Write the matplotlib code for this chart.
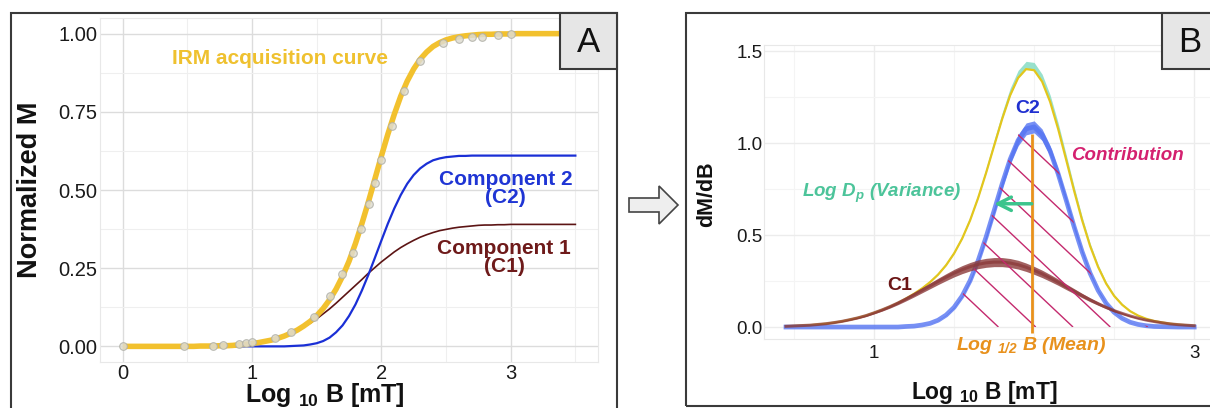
import matplotlib
matplotlib.use("Agg")
import matplotlib.pyplot as plt
import numpy as np
from matplotlib.patches import Rectangle, FancyArrow
from matplotlib.collections import LineCollection

plt.rcParams['font.family'] = ['Liberation Sans', 'DejaVu Sans']
plt.rcParams['mathtext.fontset'] = 'custom'
plt.rcParams['mathtext.rm'] = 'Liberation Sans'
plt.rcParams['mathtext.it'] = 'Liberation Sans:italic'
plt.rcParams['mathtext.bf'] = 'Liberation Sans:bold'
plt.rcParams['mathtext.bfit'] = 'Liberation Sans:italic:bold'

# ---- Panel A: IRM acquisition, normalized M vs log10 B [mT] ----
irm_x = [0, 0.477, 0.699, 0.778, 0.903, 0.954, 1.0, 1.176, 1.301, 1.477, 1.602, 1.699,
         1.778, 1.845, 1.903, 1.954, 2.0, 2.079, 2.176, 2.301, 2.477, 2.602, 2.699,
         2.778, 2.903, 3.0]
irm_y = [0.0, 0.0, 0.002, 0.004, 0.009, 0.011, 0.013, 0.027, 0.045, 0.094, 0.16, 0.23,
         0.30, 0.376, 0.454, 0.522, 0.597, 0.704, 0.817, 0.912, 0.97, 0.982, 0.989,
         0.989, 0.997, 0.998]

fit_x = np.arange(0, 3.501, 0.05)          # 0.00 .. 3.50
fit_total = [0.000, 0.000, 0.000, 0.000, 0.000, 0.000, 0.000, 0.000, 0.000, 0.000,
             0.000, 0.000, 0.001, 0.001, 0.001, 0.002, 0.002, 0.003, 0.005, 0.007,
             0.009, 0.012, 0.016, 0.020, 0.026, 0.033, 0.042, 0.052, 0.065, 0.080,
             0.098, 0.121, 0.149, 0.183, 0.224, 0.272, 0.329, 0.393, 0.462, 0.535,
             0.608, 0.678, 0.742, 0.800, 0.848, 0.887, 0.918, 0.941, 0.959, 0.971,
             0.980, 0.986, 0.990, 0.993, 0.995, 0.997, 0.998, 0.998, 0.999, 0.999,
             0.999, 1.000, 1.000, 1.000, 1.000, 1.000, 1.000, 1.000, 1.000, 1.000,
             1.000]

comp_x = np.arange(0.8, 3.501, 0.05)        # 0.80 .. 3.50
comp1 = [0.002, 0.003, 0.005, 0.007, 0.009, 0.012, 0.016, 0.020, 0.026, 0.033,
         0.041, 0.051, 0.062, 0.074, 0.088, 0.104, 0.120, 0.138, 0.157, 0.176,
         0.195, 0.214, 0.234, 0.252, 0.270, 0.286, 0.302, 0.316, 0.328, 0.339,
         0.349, 0.357, 0.364, 0.370, 0.374, 0.378, 0.381, 0.383, 0.385, 0.387,
         0.388, 0.388, 0.389, 0.389, 0.390, 0.390, 0.390, 0.390, 0.390, 0.390,
         0.390, 0.390, 0.390, 0.390, 0.390]
comp2 = [0.000, 0.000, 0.000, 0.000, 0.000, 0.000, 0.000, 0.000, 0.000, 0.000,
         0.001, 0.002, 0.003, 0.006, 0.010, 0.017, 0.028, 0.045, 0.067, 0.097,
         0.134, 0.179, 0.229, 0.283, 0.338, 0.392, 0.441, 0.484, 0.520, 0.548,
         0.569, 0.584, 0.595, 0.601, 0.605, 0.607, 0.609, 0.609, 0.610, 0.610,
         0.610, 0.610, 0.610, 0.610, 0.610, 0.610, 0.610, 0.610, 0.610, 0.610,
         0.610, 0.610, 0.610, 0.610, 0.610]

# ---- Panel B: gradient dM/dB vs log10 B [mT] ----
bx = np.arange(0.45, 3.001, 0.05)           # 0.45 .. 3.00
grad_total = [0.004, 0.006, 0.008, 0.010, 0.014, 0.018, 0.024, 0.031, 0.040, 0.050,
              0.062, 0.077, 0.093, 0.111, 0.131, 0.155, 0.181, 0.210, 0.244, 0.285,
              0.336, 0.400, 0.480, 0.580, 0.701, 0.838, 0.985, 1.130, 1.259, 1.354,
              1.402, 1.396, 1.334, 1.224, 1.077, 0.910, 0.740, 0.580, 0.440, 0.326,
              0.236, 0.169, 0.121, 0.086, 0.062, 0.045, 0.033, 0.025, 0.018, 0.013,
              0.010, 0.007]
grad_c1 = [0.004, 0.006, 0.008, 0.010, 0.014, 0.018, 0.024, 0.031, 0.040, 0.050,
           0.062, 0.077, 0.093, 0.111, 0.131, 0.153, 0.176, 0.200, 0.224, 0.248,
           0.271, 0.293, 0.312, 0.328, 0.341, 0.349, 0.353, 0.353, 0.348, 0.339,
           0.325, 0.308, 0.289, 0.267, 0.244, 0.219, 0.195, 0.171, 0.148, 0.127,
           0.107, 0.089, 0.074, 0.060, 0.048, 0.038, 0.030, 0.023, 0.017, 0.013,
           0.010, 0.007]
grad_c2 = [0.000, 0.000, 0.000, 0.000, 0.000, 0.000, 0.000, 0.000, 0.000, 0.000,
           0.000, 0.000, 0.000, 0.000, 0.000, 0.003, 0.005, 0.011, 0.020, 0.037,
           0.065, 0.107, 0.168, 0.252, 0.360, 0.489, 0.632, 0.777, 0.911, 1.015,
           1.077, 1.088, 1.045, 0.957, 0.833, 0.691, 0.545, 0.409, 0.292, 0.199,
           0.129, 0.080, 0.047, 0.026, 0.014, 0.007, 0.003, 0.002, 0.001, 0.000,
           0.000, 0.000]
c2_mean = 1.985
c2_disp = 0.235

grad_total = np.array(grad_total)
grad_c1 = np.array(grad_c1)
grad_c2 = np.array(grad_c2)

W, H = 1210, 408
fig = plt.figure(figsize=(W / 100, H / 100), dpi=100)


def fx(px):
    return px / W


def fy(py):
    return 1 - py / H


def style_axes(ax, tick_size, major_c, minor_c):
    ax.grid(True, which='major', color=major_c, lw=1.0, zorder=0)
    ax.grid(True, which='minor', color=minor_c, lw=0.8, zorder=0)
    ax.set_axisbelow(True)
    for s in ax.spines.values():
        s.set_color('#e8e8e8')
        s.set_linewidth(0.8)
    ax.tick_params(which='both', length=0, labelsize=tick_size, labelcolor='#1a1a1a')


# ---------------- Panel A ----------------
ax_a = fig.add_axes([fx(100), fy(362), fx(598) - fx(100), fy(18) - fy(362)])
ax_a.plot(comp_x, comp1, color='#5c1414', lw=1.2, zorder=2)
ax_a.plot(comp_x, comp2, color='#1a2fd6', lw=1.6, zorder=2)
ax_a.plot(fit_x, fit_total, color='#F2C12E', lw=4.0, zorder=3, solid_capstyle='butt')
ax_a.plot(irm_x, irm_y, 'o', ms=5.5, mfc='#dedcd0', mec='#b0b0a8', mew=0.8, alpha=0.85, zorder=4)
ax_a.set_xlim(-0.175, 3.675)
ax_a.set_ylim(-0.05, 1.05)
ax_a.set_xticks([0, 1, 2, 3])
ax_a.set_xticks([0.5, 1.5, 2.5, 3.5], minor=True)
ax_a.set_yticks([0, 0.25, 0.5, 0.75, 1.0])
ax_a.set_yticklabels(['0.00', '0.25', '0.50', '0.75', '1.00'])
ax_a.set_yticks([0.125, 0.375, 0.625, 0.875], minor=True)
style_axes(ax_a, 14.5, '#dcdcdc', '#efefef')
ax_a.tick_params(axis='x', pad=1.5)
ax_a.tick_params(axis='y', pad=2)

ax_a.text(1.217, 0.92, 'IRM acquisition curve', color='#EFC12F', fontsize=15,
          fontweight='bold', ha='center', va='center')
ax_a.text(2.96, 0.505, 'Component 2\n(C2)', color='#1f35d4', fontsize=15,
          fontweight='bold', ha='center', va='center', linespacing=0.95)
ax_a.text(2.95, 0.284, 'Component 1\n(C1)', color='#6e1a1a', fontsize=15,
          fontweight='bold', ha='center', va='center', linespacing=0.95)

fig.text(fx(30), fy(190), 'Normalized M', rotation=90, ha='center', va='center',
         fontsize=19.5, fontweight='bold', color='#111111')
fig.text(fx(325), fy(395), r'Log $_{\mathbf{10}}$ B [mT]', ha='center', va='center',
         fontsize=18, fontweight='bold', color='#111111')

# ---------------- Panel B ----------------
ax_b = fig.add_axes([fx(764), fy(339), fx(1215) - fx(764), fy(45) - fy(339)])
ax_b.fill_between(bx, grad_total, grad_total * 1.028 + 0.003, color='#86dcc4',
                  alpha=0.85, lw=0, zorder=2)
ax_b.plot(bx, grad_total, color='#e3c61c', lw=1.6, zorder=3)
ax_b.fill_between(bx, grad_c2 * 0.97, grad_c2 * 1.03, color='#5574f2', alpha=0.8,
                  lw=0, zorder=3)
ax_b.plot(bx, grad_c2, color='#5574f2', lw=3.4, alpha=0.8, zorder=3)
ax_b.fill_between(bx, grad_c1 * 0.93, grad_c1 * 1.07, color='#8b3a3a', alpha=0.8,
                  lw=0, zorder=3)
ax_b.plot(bx, grad_c1, color='#8b3a3a', lw=2.2, alpha=0.75, zorder=3)

# hatched contribution area under C2
region = ax_b.fill_between(bx, 0, grad_c2 * 1.03, where=bx >= 1.5, color='none', lw=0)
hatch_c = np.arange(1.777, 3.25, 0.233)
segs = [[(c - 1.4 / 0.82, 1.4), (c, 0.0)] for c in hatch_c]
lc = LineCollection(segs, colors='#c42a6e', linewidths=1.0, zorder=4)
lc.set_clip_path(region.get_paths()[0], ax_b.transData)
ax_b.add_collection(lc)

ax_b.vlines(c2_mean, -0.03, grad_c2.max() * 0.965, color='#e8911c', lw=2.0, zorder=5)
ax_b.annotate('', xy=(c2_mean - c2_disp, 0.67), xytext=(c2_mean, 0.67),
              arrowprops=dict(arrowstyle='->', color='#3cc48c', lw=2.5,
                              mutation_scale=24, shrinkA=0, shrinkB=0), zorder=6)

ax_b.set_xlim(0.3125, 3.13)
ax_b.set_ylim(-0.065, 1.533)
ax_b.set_xticks([1, 3])
ax_b.set_xticks([0.5, 1.5, 2.0, 2.5], minor=True)
ax_b.set_yticks([0, 0.5, 1.0, 1.5])
ax_b.set_yticks([0.25, 0.75, 1.25], minor=True)
style_axes(ax_b, 13.5, '#ececec', '#f4f4f4')
ax_b.tick_params(axis='x', pad=4)
ax_b.tick_params(axis='y', pad=1)

ax_b.text(1.9625, 1.19, 'C2', color='#2030d0', fontsize=14, fontweight='bold',
          ha='center', va='center')
ax_b.text(1.1625, 0.228, 'C1', color='#6b1515', fontsize=14, fontweight='bold',
          ha='center', va='center')
ax_b.text(2.58, 0.935, 'Contribution', color='#d4206f', fontsize=13.5,
          fontweight='bold', style='italic', ha='center', va='center')
ax_b.text(1.05, 0.728, r'Log D$_{\mathbfit{p}}$ (Variance)', color='#4cc49a',
          fontsize=13.5, fontweight='bold', style='italic', ha='center', va='center')
ax_b.text(1.98, -0.098, r'Log $_{\mathbfit{1/2}}$ B (Mean)', color='#e8911c',
          fontsize=14, fontweight='bold', style='italic', ha='center', va='center')

fig.text(fx(707), fy(194), 'dM/dB', rotation=90, ha='center', va='center',
         fontsize=15.5, fontweight='bold', color='#111111')
fig.text(fx(984), fy(392), r'Log $_{\mathbf{10}}$ B [mT]', ha='center', va='center',
         fontsize=16.5, fontweight='bold', color='#111111')

# ---------------- frames, labels, arrow ----------------
frame_kw = dict(transform=fig.transFigure, fill=False, ec='#3a3a3a', lw=1.5, clip_on=False)
fig.patches.append(Rectangle((fx(11), fy(425)), fx(617) - fx(11), fy(13) - fy(425), **frame_kw))
fig.patches.append(Rectangle((fx(686), fy(406)), fx(1230) - fx(686), fy(13) - fy(406), **frame_kw))

box_kw = dict(transform=fig.transFigure, fc='#e6e6e6', ec='#3a3a3a', lw=1.5, clip_on=False)
fig.patches.append(Rectangle((fx(560), fy(69)), fx(617) - fx(560), fy(13) - fy(69), **box_kw))
fig.patches.append(Rectangle((fx(1162), fy(69)), fx(1230) - fx(1162), fy(13) - fy(69), **box_kw))
fig.text(fx(588.5), fy(42), 'A', fontsize=25, ha='center', va='center', color='#111111')
fig.text(fx(1190), fy(42), 'B', fontsize=25, ha='center', va='center', color='#111111')

fig.patches.append(FancyArrow(fx(629), fy(205), fx(678) - fx(629), 0,
                              width=14 / H, head_width=38 / H, head_length=19 / W,
                              length_includes_head=True, transform=fig.transFigure,
                              fc='#eeeeee', ec='#444444', lw=1.2))

fig.savefig('out.png', dpi=100)
